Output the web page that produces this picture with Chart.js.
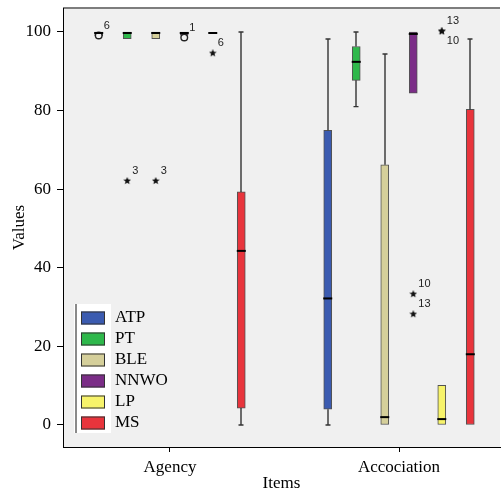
<!DOCTYPE html>
<html>
<head>
<meta charset="utf-8">
<script src="https://cdn.jsdelivr.net/npm/chart.js@4.4.1/dist/chart.umd.min.js"></script>
<style>
  html, body { margin: 0; padding: 0; background: #fff; overflow: hidden; }
  canvas { display: block; }
</style>
</head>
<body>
<canvas id="boxChart" width="501" height="494"></canvas>
<script>
// categories and series
const categories = ['Agency', 'Accociation'];
const seriesNames = ['ATP', 'PT', 'BLE', 'NNWO', 'LP', 'MS'];
const seriesColors = ['#3b5bb0', '#2eb84b', '#d5cf9a', '#7b2d87', '#f7f36a', '#e8343c'];

// five-number summaries, one [Agency, Accociation] pair per series
const lowWhisker = [[99, 0], [98.3, 81], [98.3, 0], [99.2, 84.4], [100, 0], [0, 0]];
const lowerQuartile = [[99, 4], [98.3, 87.7], [98.3, 0], [99.2, 84.4], [100, 0], [4.3, 0]];
const medians = [[100, 32.2], [100, 92.4], [100, 2], [100, 99.5], [100, 1.5], [44.3, 18]];
const upperQuartile = [[100, 75], [100, 96.3], [100, 66.2], [100, 100], [100, 10.1], [59.3, 80.3]];
const highWhisker = [[100, 98.2], [100, 100], [100, 94.4], [100, 100], [100, 10.1], [100, 98.2]];

// outliers (case numbers as labels)
const outlierCategory = [0, 0, 0, 0, 0, 1, 1, 1, 1];
const outlierSeries = [0, 1, 2, 3, 4, 3, 3, 4, 4];
const outlierValues = [99.1, 62.1, 62.1, 98.6, 94.6, 33.3, 28.2, 100.2, 100.2];
const outlierCases = ['6', '3', '3', '1', '6', '10', '13', '13', '10'];
const outlierIsExtreme = [false, true, true, false, true, true, true, true, true];

const yTicks = [0, 20, 40, 60, 80, 100];

const seriesStep = 0.1245;
const xPos = (cat, s) => cat + 1 + (s - (seriesNames.length - 1) / 2) * seriesStep;

// small filled star for the extreme values
function makeStar(size) {
  const c = document.createElement('canvas');
  c.width = size; c.height = size;
  const g = c.getContext('2d');
  const r = size / 2, r2 = r * 0.45;
  g.beginPath();
  for (let i = 0; i < 10; i++) {
    const a = -Math.PI / 2 + i * Math.PI / 5;
    const rr = i % 2 === 0 ? r : r2;
    g.lineTo(r + rr * Math.cos(a), r + rr * Math.sin(a));
  }
  g.closePath();
  g.fillStyle = '#111';
  g.fill();
  return c;
}
const starImg = makeStar(8);

const boxDatasets = seriesNames.map((name, s) => ({
  type: 'bar',
  label: name,
  data: categories.map((c, i) => ({ x: xPos(i, s), y: [lowerQuartile[s][i], upperQuartile[s][i]] })),
  backgroundColor: seriesColors[s],
  borderColor: 'rgba(30,30,30,0.75)',
  borderWidth: 1,
  borderSkipped: false,
  barThickness: 8,
  grouped: false,
  order: 2
}));

const starPoints = [], circlePoints = [];
outlierValues.forEach((v, k) => {
  const p = { x: xPos(outlierCategory[k], outlierSeries[k]), y: v, caseNo: outlierCases[k] };
  (outlierIsExtreme[k] ? starPoints : circlePoints).push(p);
});

const outlierDatasets = [
  { type: 'scatter', label: 'extreme', data: starPoints, pointStyle: starImg, pointRadius: 4, order: 1 },
  { type: 'scatter', label: 'outlier', data: circlePoints, pointStyle: 'circle', pointRadius: 3.3,
    backgroundColor: '#f0f0f0', borderColor: '#222', borderWidth: 1.4, order: 1 }
];

const plotBackground = {
  id: 'plotBackground',
  beforeDraw(chart) {
    const { ctx, chartArea: a } = chart;
    ctx.save();
    ctx.fillStyle = '#f0f0f0';
    ctx.fillRect(a.left, a.top, a.right - a.left, a.bottom - a.top);
    ctx.strokeStyle = '#7d7d7d';
    ctx.lineWidth = 2;
    ctx.beginPath();
    ctx.moveTo(a.left, a.top);
    ctx.lineTo(a.right, a.top);
    ctx.stroke();
    ctx.restore();
  }
};

const boxWhiskers = {
  id: 'boxWhiskers',
  beforeDatasetsDraw(chart) {
    const { ctx } = chart;
    const y = chart.scales.y;
    ctx.save();
    ctx.strokeStyle = '#333';
    ctx.lineWidth = 1.4;
    seriesNames.forEach((n, s) => {
      const meta = chart.getDatasetMeta(s);
      meta.data.forEach((bar, i) => {
        const cx = Math.round(bar.x);
        const pairs = [[upperQuartile[s][i], highWhisker[s][i]], [lowerQuartile[s][i], lowWhisker[s][i]]];
        pairs.forEach(([from, to]) => {
          if (Math.abs(to - from) < 0.5) return;
          const y0 = y.getPixelForValue(from), y1 = y.getPixelForValue(to);
          ctx.beginPath();
          ctx.moveTo(cx, y0);
          ctx.lineTo(cx, y1);
          ctx.moveTo(cx - 2.5, y1);
          ctx.lineTo(cx + 2.5, y1);
          ctx.stroke();
        });
      });
    });
    ctx.restore();
  },
  afterDatasetsDraw(chart) {
    const { ctx } = chart;
    const y = chart.scales.y;
    ctx.save();
    // medians
    ctx.strokeStyle = '#000';
    ctx.lineWidth = 2;
    seriesNames.forEach((n, s) => {
      chart.getDatasetMeta(s).data.forEach((bar, i) => {
        const py = y.getPixelForValue(medians[s][i]) + (medians[s][i] >= 100 ? 1 : 0);
        ctx.beginPath();
        ctx.moveTo(bar.x - 4.5, py);
        ctx.lineTo(bar.x + 4.5, py);
        ctx.stroke();
      });
    });
    // case labels next to outliers
    ctx.fillStyle = '#222';
    ctx.font = '11px "Liberation Sans", Arial, sans-serif';
    ctx.textAlign = 'left';
    ctx.textBaseline = 'middle';
    const seen = {};
    [seriesNames.length, seriesNames.length + 1].forEach(d => {
      const meta = chart.getDatasetMeta(d);
      meta.data.forEach((pt, k) => {
        const raw = chart.data.datasets[d].data[k];
        const key = Math.round(pt.x) + ':' + Math.round(pt.y);
        const dy = seen[key] ? 10 : -10;
        seen[key] = true;
        ctx.fillText(raw.caseNo, pt.x + 5, pt.y + dy);
      });
    });
    ctx.restore();
  }
};

const boxLegend = {
  id: 'boxLegend',
  afterDraw(chart) {
    const { ctx, chartArea: a } = chart;
    ctx.save();
    const top = a.bottom - 143;
    ctx.fillStyle = '#fff';
    ctx.fillRect(a.left + 11, top, 37, 129);
    ctx.fillStyle = '#8a8a8a';
    ctx.fillRect(a.left + 12, top, 2, 129);
    ctx.font = '17px "Liberation Serif", "Times New Roman", serif';
    ctx.textBaseline = 'middle';
    ctx.textAlign = 'left';
    seriesNames.forEach((name, s) => {
      const cy = a.bottom - 129 + s * 21;
      ctx.fillStyle = seriesColors[s];
      ctx.fillRect(a.left + 18, cy - 6.5, 24, 13);
      ctx.strokeStyle = '#333';
      ctx.lineWidth = 1;
      ctx.strokeRect(a.left + 18.5, cy - 6, 23, 12);
      ctx.fillStyle = '#000';
      ctx.fillText(name, a.left + 52, cy);
    });
    ctx.restore();
  }
};

Chart.defaults.font.family = '"Liberation Serif", "Times New Roman", serif';
Chart.defaults.color = '#000';

new Chart(document.getElementById('boxChart'), {
  type: 'bar',
  data: { datasets: boxDatasets.concat(outlierDatasets) },
  options: {
    responsive: false,
    animation: false,
    layout: { autoPadding: false, padding: { top: 8, right: 1, left: 0, bottom: 0 } },
    scales: {
      x: {
        type: 'linear',
        offset: false,
        min: 0.5328,
        max: 2.441,
        afterBuildTicks: scale => { scale.ticks = categories.map((c, i) => ({ value: i + 1 })); },
        afterFit: scale => {
          scale.height = 47;
          scale.paddingLeft = 0;
          scale.paddingRight = 0;
        },
        ticks: {
          font: { size: 17 },
          padding: 5,
          maxRotation: 0,
          callback: v => categories[v - 1]
        },
        grid: { drawOnChartArea: false, offset: false, tickLength: 5, color: '#000' },
        border: { color: '#000', width: 1 },
        title: { display: true, text: 'Items', font: { size: 17 }, padding: { top: 0, bottom: 0 } }
      },
      y: {
        min: -5.6,
        max: 106.1,
        afterBuildTicks: scale => { scale.ticks = yTicks.map(v => ({ value: v })); },
        afterFit: scale => {
          scale.width = 63;
          scale.paddingTop = 0;
          scale.paddingBottom = 0;
        },
        ticks: { font: { size: 17 }, padding: 6 },
        grid: { drawOnChartArea: false, tickLength: 6, color: '#000' },
        border: { color: '#000', width: 1 },
        title: { display: true, text: 'Values', font: { size: 17 }, padding: { top: 9, bottom: 0 } }
      }
    },
    plugins: {
      legend: { display: false },
      tooltip: { enabled: false }
    }
  },
  plugins: [plotBackground, boxWhiskers, boxLegend]
});
</script>
</body>
</html>
